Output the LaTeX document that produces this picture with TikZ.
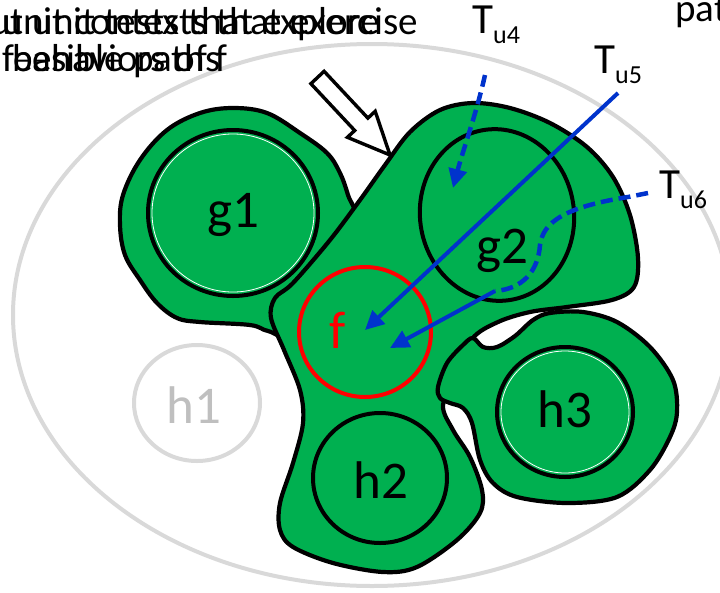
\documentclass[tikz,border=0pt]{standalone}
\usepackage{fontspec}
\setmainfont{Carlito}
\usetikzlibrary{arrows.meta}
\definecolor{blobgreen}{HTML}{00B050}
\definecolor{lgray}{HTML}{D9D9D9}
\definecolor{tgray}{HTML}{BFBFBF}
\definecolor{pathblue}{HTML}{0033CC}
\newcommand\tsub[1]{\raisebox{-10pt}{\fontsize{26}{26}\selectfont #1}}
\begin{document}
\begin{tikzpicture}[x=1pt,y=-1pt,
  blob/.style={fill=blobgreen,draw=black,line width=4.2pt},
  ring/.style={draw=black,line width=4pt},
  lbl/.style={font=\fontsize{53}{53}\selectfont,inner sep=0pt,anchor=base},
  tlbl/.style={font=\fontsize{43}{43}\selectfont,inner sep=0pt,anchor=base west},
  captxt/.style={font=\fontsize{39}{39}\selectfont,inner sep=0pt},
  tarrow/.style={draw=pathblue,line width=4pt,-{Triangle[length=19pt,width=18pt]}},
  tdash/.style={draw=pathblue,line width=4.5pt,dash pattern=on 12pt off 6pt},
]
\useasboundingbox (0,0) rectangle (720,592);
\clip (0,0) rectangle (720,592);

% outer gray ellipse and h1
\draw[lgray,line width=4pt] (372,315) ellipse [x radius=359, y radius=271];
\draw[lgray,line width=4pt] (197,403) ellipse [x radius=63, y radius=58];
\node[lbl,text=tgray] (h1) at (194,423) {h1};

% left blob (g1)
\draw[blob] plot[smooth cycle,tension=0.6] coordinates {
  (348,195)(356,225)(330,280)(292,333)(268,331)(250,325)(200,322)(177,318)
  (157,303)(140,280)(125,255)(120,225)(123,195)(140,160)(167,130)(200,113)
  (233,108)(267,113)(300,133)(327,153)(340,173)};
\draw[ring] (233,213) ellipse [x radius=85, y radius=83];
\draw[white,line width=0.8pt] (233,213) ellipse [x radius=81, y radius=79];

% big blob (g2, f, h2)
\draw[blob] plot[smooth cycle,tension=0.55] coordinates {
  (385,165)(410,132)(440,110)(473,103)(510,108)(550,123)(587,147)(613,177)
  (630,215)(638,258)(634,287)(612,300)(567,307)(530,312)(498,322)(472,339)
  (458,375)(443,405)(453,430)(470,457)(482,490)(480,513)(457,540)(417,567)
  (383,572)(333,563)(293,547)(280,530)(280,503)(293,463)(303,423)(300,390)
  (284,350)(271,318)(275,298)(293,283)(330,240)(360,200)};

% h3 blob
\draw[blob] plot[smooth cycle,tension=0.55] coordinates {
  (473,338)(483,347)(497,347)(515,336)(533,320)(550,313)(583,312)(617,322)
  (650,347)(673,380)(677,412)(670,437)(650,470)(617,497)(567,503)(517,497)
  (493,483)(480,460)(472,423)(463,408)(450,403)(440,398)(438,387)(447,363)
  (463,345)};

% inner circles
\draw[ring] (497,215) ellipse [x radius=77, y radius=86, rotate=8];
\draw[ring] (380,478) ellipse [x radius=67, y radius=65];
\draw[ring] (565,412) ellipse [x radius=68, y radius=65];
\draw[white,line width=0.8pt] (565,412) ellipse [x radius=64, y radius=61];
\draw[red,line width=4pt] (365,332) ellipse [x radius=66, y radius=65];

\node[lbl] (g1) at (233,227) {g1};
\node[lbl] (g2) at (502,263) {g2};
\node[lbl,text=red] (f) at (338,348) {f};
\node[lbl] (h2) at (381,498) {h2};
\node[lbl] (h3) at (565,427) {h3};

% test labels
\node[tlbl] (tu4) at (472,33) {T\tsub{u4}};
\node[tlbl] (tu5) at (594,73) {T\tsub{u5}};
\node[tlbl] (tu6) at (659,198) {T\tsub{u6}};

\coordinate (s4) at (485,75);
\coordinate (e4) at (453,188);
\coordinate (s5) at (618,93);
\coordinate (e5) at (365,330);
\coordinate (s6) at (648,193);
\coordinate (m6) at (495,291);
\coordinate (e6) at (390,348);

\draw[tarrow,line width=4.5pt,dash pattern=on 12pt off 6pt] (s4) .. controls (476,115) and (463,150) .. (e4);
\draw[tarrow] (s5) -- (e5);
\draw[tdash] (s6) -- (628,197) .. controls (565,207) and (543,222) .. (540,245)
   .. controls (538,272) and (522,289) .. (m6);
\draw[tarrow] (m6) -- (e6);

% hollow arrow
\draw[fill=white,draw=black,line width=3.4pt,line join=miter]
  (310.9,83.7) -- (354.7,130.5) -- (347.4,137.3) -- (390,155) -- (375.2,111.3)
  -- (367.9,118.1) -- (324.1,71.3) -- cycle;

% overlapping captions
\node[captxt,anchor=base west] (capA1) at (-10,34) {ut unit tests that explore};
\node[captxt,anchor=base east] (capB1) at (418,34) {t unit contexts that exercise};
\node[captxt,anchor=base west] (capA2) at (2,71) {feasible paths};
\node[captxt,anchor=base east] (capB2) at (228,71) {behaviors of f};
\node[captxt,anchor=base west] (capR) at (675,21) {paths};
\end{tikzpicture}
\end{document}
